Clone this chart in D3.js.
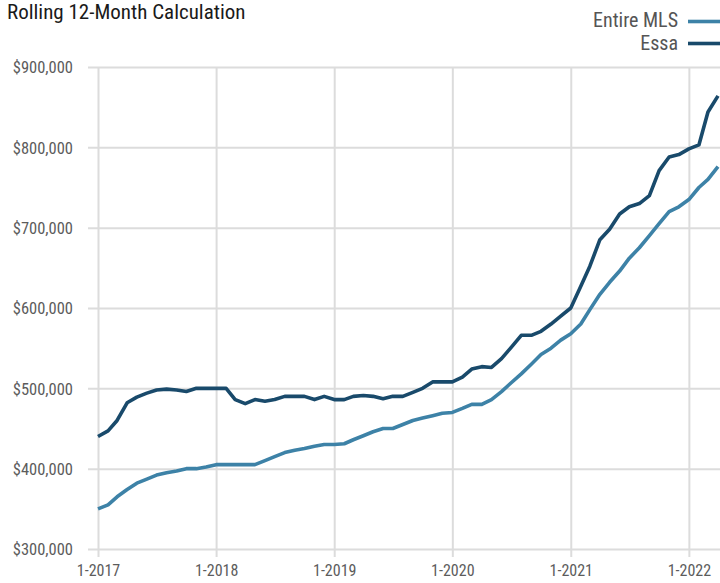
<!DOCTYPE html>
<html>
<head>
<meta charset="utf-8">
<script src="https://cdn.jsdelivr.net/npm/d3@7"></script>
<style>
  html, body { margin: 0; padding: 0; background: #fff; }
  svg { display: block; }
  text { font-family: "Roboto Condensed", "Roboto", "Liberation Sans", sans-serif; font-weight: 400; }
</style>
</head>
<body>
<svg id="chart" width="720" height="583"></svg>
<script>
// ---------- DATA ----------
const startMonth = "2017-01";
const seriesNames = ["Entire MLS", "Essa"];
const entireMLS = [350000, 355000, 365000, 374000, 382000, 387000, 392000, 395000, 397000, 400000, 400000, 402000,
  405000, 405000, 405000, 405000, 405000, 410000, 415000, 420000, 423000, 425000, 428000, 430000,
  430000, 431000, 436000, 441000, 446000, 450000, 450000, 455000, 460000, 463000, 466000, 469000,
  470000, 475000, 480000, 480000, 486000, 496000, 507000, 518000, 530000, 542000, 550000, 560000,
  568000, 580000, 598000, 617000, 632000, 646000, 662000, 675000, 690000, 705000, 720000, 726000,
  735000, 750000, 760000, 776000];
const essa = [440000, 447000, 460000, 482000, 489000, 494000, 498000, 499000, 498000, 496000, 500000, 500000,
  500000, 500000, 486000, 481000, 486000, 484000, 486000, 490000, 490000, 490000, 486000, 490000,
  486000, 486000, 490000, 491000, 490000, 487000, 490000, 490000, 495000, 500000, 508000, 508000,
  508000, 514000, 524000, 527000, 526000, 537000, 551000, 566000, 566000, 571000, 580000, 590000,
  600000, 627000, 652000, 685000, 698000, 717000, 726000, 730000, 740000, 771000, 788000, 791000,
  798000, 803000, 844000, 864000];
const yTicks = [300000, 400000, 500000, 600000, 700000, 800000, 900000];
const xTickLabels = ["1-2017", "1-2018", "1-2019", "1-2020", "1-2021", "1-2022"];
const titleText = "Rolling 12-Month Calculation";
const colors = ["#3d82a7", "#194a6b"];

// ---------- CHART ----------
const svg = d3.select("#chart");
const parseMonth = d3.timeParse("%Y-%m");
const t0 = parseMonth(startMonth);
const dates = entireMLS.map((_, i) => d3.timeMonth.offset(t0, i));

const x = d3.scaleTime().domain([dates[0], dates[dates.length - 1]]).range([98, 718]);
const y = d3.scaleLinear().domain([300000, 900000]).range([549, 67]);

const grid = "#dcdcdc";

// horizontal grid + y axis
const yAxis = d3.axisLeft(y).tickValues(yTicks).tickSize(10)
  .tickFormat(d => "$" + d3.format(",")(d));
const gy = svg.append("g").attr("transform", "translate(98,0)").call(yAxis);
gy.select(".domain").remove();
gy.selectAll(".tick line").attr("x1", -10).attr("x2", 622).attr("stroke", grid).attr("stroke-width", 2);
gy.selectAll(".tick text").attr("fill", "#5c5c5c").style("font-size", "16.5px").attr("x", -25).attr("dy", "0.35em");

// vertical grid + x axis
const xTickDates = xTickLabels.map(s => { const [m, yr] = s.split("-"); return new Date(+yr, +m - 1, 1); });
const xAxis = d3.axisBottom(x).tickValues(xTickDates).tickSize(8).tickPadding(8)
  .tickFormat((d, i) => xTickLabels[i]);
const gx = svg.append("g").attr("transform", "translate(0,549)").call(xAxis);
gx.select(".domain").remove();
gx.selectAll(".tick line").attr("y1", -482).attr("y2", 8).attr("stroke", grid).attr("stroke-width", 2);
gx.selectAll(".tick text").attr("fill", "#5c5c5c").style("font-size", "16px");

// lines
const line = d3.line().x((d, i) => x(dates[i])).y(d => y(d)).curve(d3.curveLinear);
[entireMLS, essa].forEach((s, k) => {
  svg.append("path").datum(s).attr("d", line)
    .attr("fill", "none").attr("stroke", colors[k]).attr("stroke-width", 3.6)
    .attr("stroke-linejoin", "round").attr("stroke-linecap", "butt");
});

// title
svg.append("text").attr("x", 7).attr("y", 19).text(titleText)
  .attr("fill", "#1a1a1a").style("font-size", "21px");

// legend
seriesNames.forEach((name, k) => {
  const ly = 21.5 + k * 22;
  svg.append("line").attr("x1", 688).attr("x2", 720).attr("y1", ly).attr("y2", ly)
    .attr("stroke", colors[k]).attr("stroke-width", 3.6);
  svg.append("text").attr("x", 678).attr("y", 27 + k * 23)
    .attr("text-anchor", "end").text(name).attr("fill", "#555").style("font-size", "20px");
});
</script>
</body>
</html>
